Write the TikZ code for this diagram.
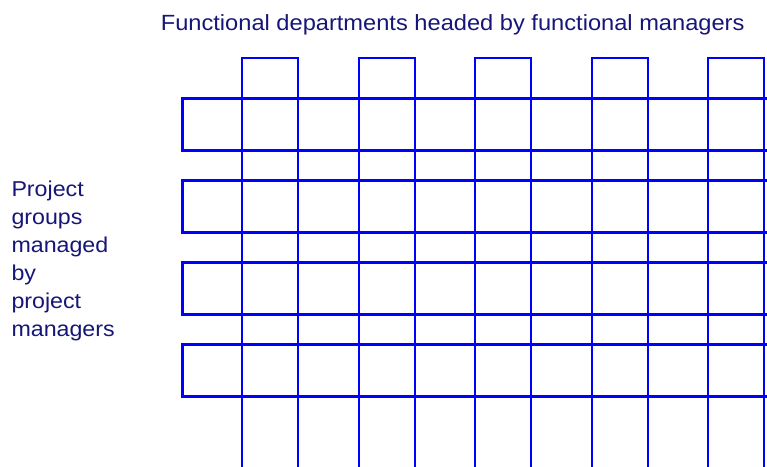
\documentclass[tikz,border=0pt]{standalone}
\usepackage{fontspec}
\setmainfont{Liberation Sans}
\usepackage{graphicx}
\definecolor{gridblue}{RGB}{0,0,255}
\definecolor{textnavy}{RGB}{22,22,120}
\begin{document}
\begin{tikzpicture}[x=1pt,y=-1pt,
  rowline/.style={draw=gridblue,line width=3pt,line join=miter},
  colline/.style={draw=gridblue,line width=2pt,line join=miter},
  lbl/.style={inner sep=0pt,outer sep=0pt,text=textnavy,anchor=base west}]
\useasboundingbox (0,0) rectangle (767,466);
\begin{scope}
\clip (0,0) rectangle (767,466);
% project group rows (open to the right)
\foreach \t in {98,180,262,344}{
  \draw[rowline] (780,\t) -- (182,\t) -- (182,\t+52) -- (780,\t+52);
}
% functional department columns (open at the bottom)
\foreach \l in {242,358.5,475,591.5,708}{
  \draw[colline] (\l,480) -- (\l,58) -- (\l+56,58) -- (\l+56,480);
}
\end{scope}
\node[lbl] (top) at (160.8,30.5) {\fontsize{22}{26}\selectfont\scalebox{1.075}[1]{Functional departments headed by functional managers}};
\node[lbl] (left) at (11.5,196) {\fontsize{21.5}{28.1}\selectfont\scalebox{1.08}[1]{\begin{tabular}[t]{@{}l@{}}Project\\groups\\managed\\by\\project\\managers\end{tabular}}};
\end{tikzpicture}
\end{document}
